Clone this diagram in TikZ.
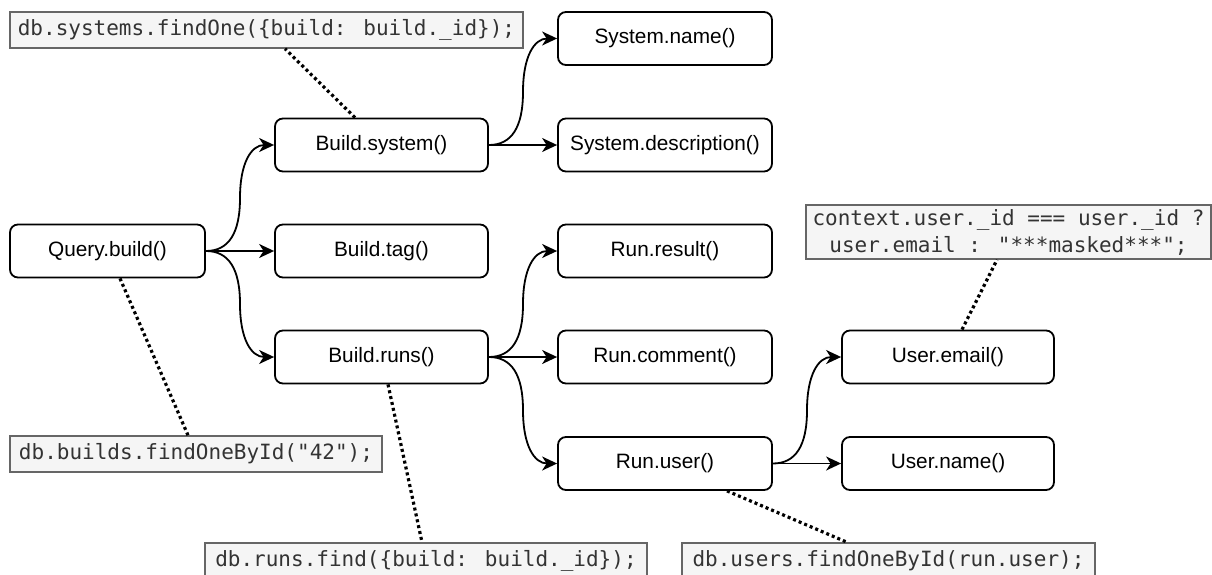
\documentclass[tikz,border=0pt]{standalone}
\usepackage{fontspec}
\setmainfont{Liberation Sans}
\newfontfamily\codefont{DejaVu Sans Mono}
\usetikzlibrary{arrows.meta,calc}
\definecolor{codebg}{HTML}{F5F5F5}
\definecolor{codeborder}{HTML}{666666}
\definecolor{codetext}{HTML}{333333}
\begin{document}
\begin{tikzpicture}[x=1pt,y=-1pt,
 fn/.style={draw=black, line width=1.8pt, rounded corners=8pt, minimum height=53pt, font=\fontsize{20.8}{25}\selectfont, inner sep=0pt},
 code/.style={draw=codeborder, fill=codebg, line width=1.5pt, text=codetext, font=\codefont\fontsize{21}{27}\selectfont, inner sep=0pt, align=center},
 arr/.style={line width=1.8pt, -{Stealth[length=15pt,width=14pt,inset=4.5pt]}},
 link/.style={line width=3.2pt, dash pattern=on 3pt off 3pt},
 curvy/.style={to path={let \p1=(\tikztostart), \p2=(\tikztotarget) in
   .. controls ({\x1+(\x2-\x1)/3},\y1) and ({(\x1+\x2)/2},{(\y1+\y2)/2+(\y1-\y2)/3})
   .. ({(\x1+\x2)/2},{(\y1+\y2)/2})
   .. controls ({(\x1+\x2)/2},{(\y1+\y2)/2-(\y1-\y2)/3}) and ({\x2-(\x2-\x1)/3},\y2)
   .. (\tikztotarget)}}
]
\useasboundingbox (0,0) rectangle (1212,575);

% function nodes
\node[fn, minimum width=195pt] (qb) at (107.5,251) {Query.build()};
\node[fn, minimum width=213pt] (bs) at (381.5,145) {Build.system()};
\node[fn, minimum width=213pt] (bt) at (381.5,251) {Build.tag()};
\node[fn, minimum width=213pt] (br) at (381.5,357) {Build.runs()};
\node[fn, minimum width=214pt] (sn) at (665,38.5) {System.name()};
\node[fn, minimum width=214pt] (sd) at (665,145) {System.description()};
\node[fn, minimum width=214pt] (rr) at (665,251) {Run.result()};
\node[fn, minimum width=214pt] (rc) at (665,357) {Run.comment()};
\node[fn, minimum width=214pt] (ru) at (665,463.5) {Run.user()};
\node[fn, minimum width=212pt] (ue) at (948,357) {User.email()};
\node[fn, minimum width=212pt] (un) at (948,463.5) {User.name()};

% code nodes
\node[code, minimum width=513pt, minimum height=36pt] (sysq) at (266.5,30) {db.systems.findOne(\{build: build.\_id\});};
\node[code, minimum width=372pt, minimum height=36pt] (bq) at (196,454) {db.builds.findOneById("42");};
\node[code, minimum width=442pt, minimum height=36pt] (rq) at (426,561) {db.runs.find(\{build: build.\_id\});};
\node[code, minimum width=413pt, minimum height=36pt] (uq) at (888.5,561) {db.users.findOneById(run.user);};
\node[code, minimum width=405pt, minimum height=54pt] (cq) at (1008.5,232) {context.user.\_id === user.\_id ?\\user.email : "***masked***";};

% arrows
\draw[arr] (qb.east) to[curvy] (bs.west);
\draw[arr] (qb.east) -- (bt.west);
\draw[arr] (qb.east) to[curvy] (br.west);
\draw[arr] (bs.east) to[curvy] (sn.west);
\draw[arr] (bs.east) -- (sd.west);
\draw[arr] (br.east) to[curvy] (rr.west);
\draw[arr] (br.east) -- (rc.west);
\draw[arr] (br.east) to[curvy] (ru.west);
\draw[arr] (ru.east) to[curvy] (ue.west);
\draw[arr] (ru.east) -- (un.west);

% dotted links
\draw[link] ([xshift=-26.5pt]bs.north) -- ([xshift=18.5pt]sysq.south);
\draw[link] ([xshift=12.5pt]qb.south) -- ([xshift=-8pt]bq.north);
\draw[link] ([xshift=6.5pt]br.south) -- ([xshift=-4pt]rq.north);
\draw[link] ([xshift=62pt]ru.south) -- ([xshift=-41.5pt]uq.north);
\draw[link] ([xshift=14pt]ue.north) -- ([xshift=-11.5pt]cq.south);
\end{tikzpicture}
\end{document}
